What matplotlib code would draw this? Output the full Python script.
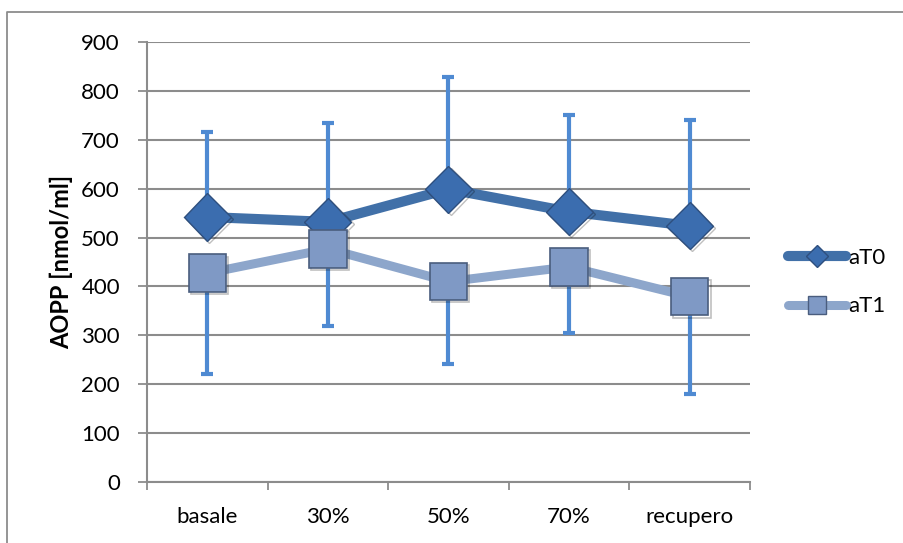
import matplotlib
matplotlib.use("Agg")
import matplotlib.pyplot as plt
import matplotlib.patheffects as pe
from matplotlib.lines import Line2D
import numpy as np

plt.rcParams['font.family'] = ['Lato', 'DejaVu Sans']

categories = ["basale", "30%", "50%", "70%", "recupero"]
aT0 = [542, 532, 599, 553, 524]
aT0_err_up = [174, 203, 229, 197, 216]
aT1 = [427, 477, 410, 440, 379]
aT1_err_down = [206, 158, 169, 136, 200]
yticks = [0, 100, 200, 300, 400, 500, 600, 700, 800, 900]

c_line0 = "#4170A8"
c_mark0 = "#3B6DAF"
c_line1 = "#8DA6CB"
c_mark1 = "#7F99C5"
c_err = "#4F8AD2"
c_grid = "#8C8C8C"
fs = 16

fig = plt.figure(figsize=(9.04, 5.43), dpi=100)
ax = fig.add_axes([147/904, 1-482/543, (750-147)/904, (482-42)/543])

x = np.arange(len(categories))

ax.errorbar(x, aT0, yerr=[np.zeros(len(aT0)), aT0_err_up], fmt='none',
            ecolor=c_err, elinewidth=3, capsize=4.5, capthick=3, zorder=3)
ax.errorbar(x, aT1, yerr=[aT1_err_down, np.zeros(len(aT1))], fmt='none',
            ecolor=c_err, elinewidth=3, capsize=4.5, capthick=3, zorder=3)

shadow = [pe.SimpleLineShadow(offset=(1.5, -1.5), shadow_color='k', alpha=0.25), pe.Normal()]

ax.plot(x, aT0, color=c_line0, lw=7.3, solid_capstyle='butt', zorder=4)
ax.plot(x, aT0, ls='none', marker='D', ms=24, mfc=c_mark0, mec="#2E4F7E",
        mew=1, zorder=5, path_effects=shadow)
ax.plot(x, aT1, color=c_line1, lw=6.5, solid_capstyle='butt', zorder=6)
ax.plot(x, aT1, ls='none', marker='s', ms=27, mfc=c_mark1, mec="#4A5D7E",
        mew=1.2, zorder=7, path_effects=shadow)

ax.set_xlim(-0.5, len(categories) - 0.5)
ax.set_ylim(0, 900)
ax.set_yticks(yticks)
ax.set_xticks(x)
ax.set_xticklabels(categories)
ax.set_xticks(np.arange(len(categories) + 1) - 0.5, minor=True)
ax.tick_params(axis='x', which='major', length=0, pad=18, labelsize=fs, colors='black')
ax.tick_params(axis='x', which='minor', length=6, width=1.3, color=c_grid)
ax.tick_params(axis='y', length=6.5, width=1.3, color=c_grid, pad=13, labelsize=fs)

ax.grid(axis='y', color=c_grid, lw=1.5, zorder=0)
ax.set_axisbelow(True)
for s in ['top', 'right']:
    ax.spines[s].set_visible(False)
for s in ['left', 'bottom']:
    ax.spines[s].set_color(c_grid)
    ax.spines[s].set_linewidth(1.5)

ax.set_ylabel("AOPP [nmol/ml]", fontsize=17, fontweight='bold')
ax.yaxis.set_label_coords((73-147)/603, 0.5)

h0 = Line2D([], [], color=c_line0, lw=7.3, marker='D', ms=11, mfc=c_mark0, mec="#2E4F7E", solid_capstyle='round')
h1 = Line2D([], [], color=c_line1, lw=6.5, marker='s', ms=13, mfc=c_mark1, mec="#4A5D7E", solid_capstyle='round')
fig.legend([h0, h1], ["aT0", "aT1"], loc='center left',
           bbox_to_anchor=(788/904, 1-282/543), frameon=False, fontsize=fs,
           handlelength=2.6, handletextpad=0.1, labelspacing=1.3,
           borderpad=0, borderaxespad=0)

# outer chart border (top and left edges visible)
fig.add_artist(Line2D([7/904, 7/904, 1.0], [0.0, 1-12/543, 1-12/543],
                      transform=fig.transFigure, color="#8C8C8C", lw=1.3))

fig.savefig("out.png", dpi=100)
